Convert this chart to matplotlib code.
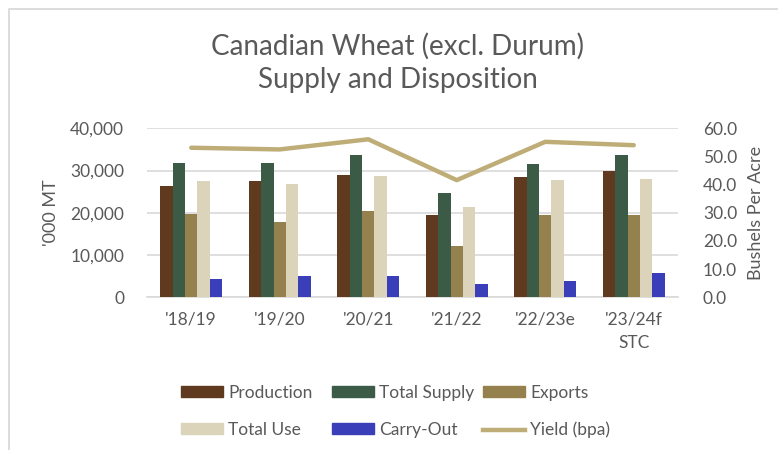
import matplotlib
matplotlib.use("Agg")
import matplotlib.pyplot as plt
from matplotlib.patches import Patch
from matplotlib.lines import Line2D
import numpy as np

plt.rcParams['font.family'] = ['Lato', 'DejaVu Sans']

categories = ["'18/19", "'19/20", "'20/21", "'21/22", "'22/23e", "'23/24f\nSTC"]
production = [26400, 27500, 29000, 19500, 28450, 29950]
total_supply = [31700, 31700, 33750, 24750, 31450, 33750]
exports = [19700, 17900, 20500, 12200, 19500, 19500]
total_use = [27500, 26700, 28700, 21450, 27750, 28000]
carry_out = [4250, 5050, 5050, 3050, 3800, 5700]
yield_bpa = [53.1, 52.5, 56.1, 41.6, 55.2, 54.0]

series_names = ["Production", "Total Supply", "Exports", "Total Use", "Carry-Out"]
series_vals = [production, total_supply, exports, total_use, carry_out]
colors = ["#5F3A1F", "#3B5B47", "#94814E", "#DCD3BB", "#3A3FB9"]
yield_color = "#BFAD78"
text_color = "#595959"

fig = plt.figure(figsize=(7.78, 4.5), dpi=100)
ax = fig.add_axes([147/778, 1-297.3/450, (678-147)/778, (297.3-128.3)/450])
ax2 = ax.twinx()

x = np.arange(len(categories))
bw = 0.14
for i, (name, vals, c) in enumerate(zip(series_names, series_vals, colors)):
    ax.bar(x + (i - 2) * bw, vals, bw, color=c, label=name, zorder=3)

ax2.plot(x, yield_bpa, color=yield_color, lw=3.2, solid_capstyle='round', zorder=4, label="Yield (bpa)")

ax.set_xlim(-0.5, len(categories) - 0.5)
ax.set_ylim(0, 40000)
ax2.set_ylim(0, 60)
ax.set_yticks(range(0, 40001, 10000))
ax.set_yticklabels([f"{v:,}" for v in range(0, 40001, 10000)])
ax2.set_yticks(range(0, 61, 10))
ax2.set_yticklabels([f"{v:.1f}" for v in range(0, 61, 10)])
ax.set_xticks(x)
ax.set_xticklabels(categories, linespacing=1.6)

ax.grid(axis='y', color='#D9D9D9', lw=1.2, zorder=0)
ax.set_axisbelow(True)
for a in (ax, ax2):
    for s in a.spines.values():
        s.set_visible(False)
    a.tick_params(length=0, colors=text_color, labelsize=12.5)
ax.spines['bottom'].set_visible(True)
ax.spines['bottom'].set_color('#D9D9D9')
ax.spines['bottom'].set_linewidth(1.2)
ax.tick_params(axis='y', pad=16.5)
ax2.tick_params(axis='y', pad=18)
ax.tick_params(axis='x', pad=10)

ax.set_ylabel("'000 MT", color=text_color, fontsize=13, labelpad=8)
ax2.set_ylabel("Bushels Per Acre", color=text_color, fontsize=13, labelpad=8)

fig.text(398/778, 1-63/450, "Canadian Wheat (excl. Durum)\nSupply and Disposition",
         ha='center', va='center', fontsize=20, color=text_color, linespacing=1.38)

# legend in three columns
col_items = [
    [(Patch(color=colors[0]), "Production"), (Patch(color=colors[3]), "Total Use")],
    [(Patch(color=colors[1]), "Total Supply"), (Patch(color=colors[4]), "Carry-Out")],
    [(Patch(color=colors[2]), "Exports"), (Line2D([], [], color=yield_color, lw=3.2), "Yield (bpa)")],
]
col_x = [181, 332, 483]
for cx, items in zip(col_x, col_items):
    leg = fig.legend([h for h, _ in items], [l for _, l in items],
                     loc='upper left', bbox_to_anchor=(cx/778, 1-385/450),
                     frameon=False, fontsize=12.5, handlelength=2.4, handleheight=0.6,
                     handletextpad=0.3, labelspacing=1.2, borderaxespad=0, borderpad=0,
                     labelcolor=text_color)

# chart border (top and left visible)
fig.add_artist(Line2D([9/778, 9/778, 1.01], [-0.01, 1-9/450, 1-9/450],
                      transform=fig.transFigure, color='#D9D9D9', lw=1.3))

fig.savefig("out.png", dpi=100)
